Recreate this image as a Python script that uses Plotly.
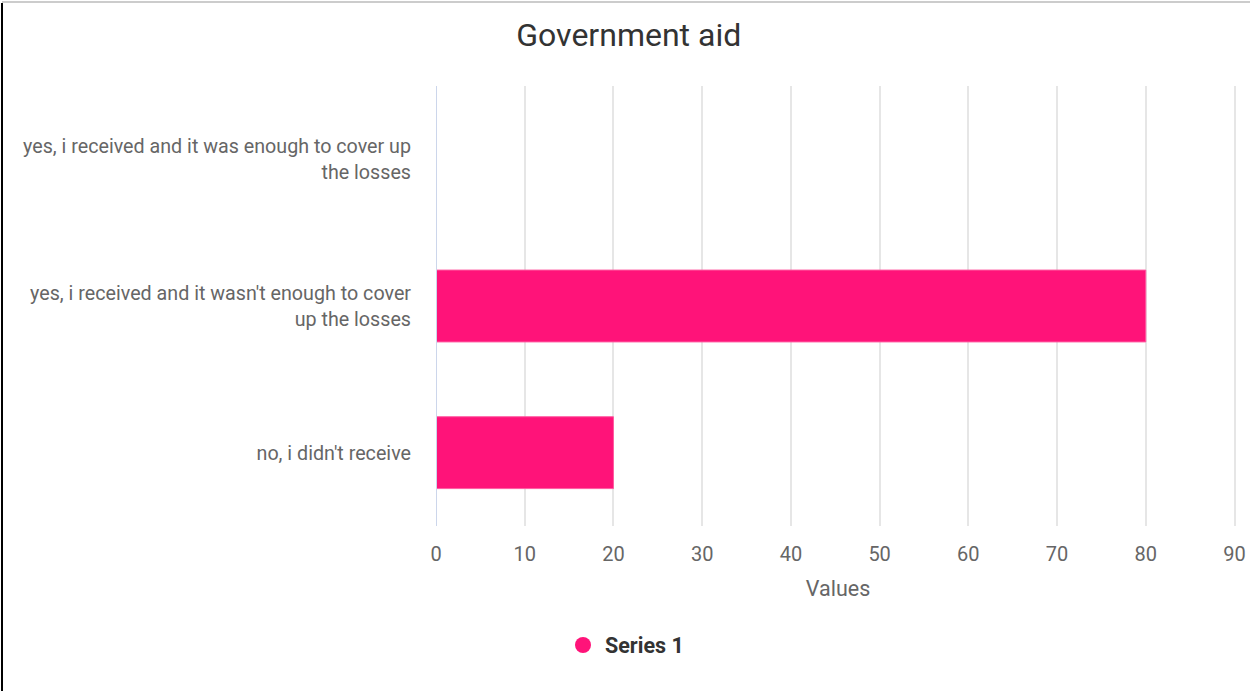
import plotly.graph_objects as go

# Survey answers (top to bottom) and their share
categories = [
    "yes, i received and it was enough to cover up<br>the losses",
    "yes, i received and it wasn't enough to cover<br>up the losses",
    "no, i didn't receive",
]
values = [0, 80, 20]
series_name = "Series 1"
x_ticks = [0, 10, 20, 30, 40, 50, 60, 70, 80, 90]

BAR_COLOR = "#ff1379"
W, H = 1250, 691
L, R, T, B = 436, 10, 86, 165
PW, PH = W - L - R, H - T - B

fig = go.Figure()
fig.add_trace(go.Bar(
    x=values, y=categories, orientation="h",
    marker=dict(color=BAR_COLOR, line=dict(width=1, color="#ff5aa0")),
    name=series_name, showlegend=False,
))
# legend entry with a round swatch
fig.add_trace(go.Scatter(
    x=[None], y=[None], mode="markers", name=series_name,
    marker=dict(symbol="circle", size=22, color=BAR_COLOR),
))

fig.update_layout(
    width=W, height=H,
    margin=dict(l=L, r=R, t=T, b=B, autoexpand=False),
    paper_bgcolor="white", plot_bgcolor="white",
    font=dict(family="Roboto", color="#666666", size=20),
    title=dict(text="Government aid", x=0.503, xref="container", xanchor="center",
               y=1 - 35 / H, yref="container", yanchor="middle",
               font=dict(family="Roboto", size=32, color="#333333")),
    bargap=0.51,
    showlegend=True,
    legend=dict(orientation="h", xref="container", yref="container",
                x=0.5, xanchor="center", y=1 - 645 / H, yanchor="middle",
                font=dict(family="Roboto", size=21.5, color="#333333", weight="bold"),
                itemwidth=34),
    xaxis=dict(range=[0, 90 * PW / 798.5], tickvals=x_ticks,
               showgrid=True, gridcolor="#e6e6e6", gridwidth=1.5, zeroline=False,
               showline=False, ticks="", ticklabelstandoff=14, automargin=False,
               tickfont=dict(size=20, color="#666666"),
               title=dict(text="Values", standoff=15,
                          font=dict(size=21.5, color="#666666")),
               fixedrange=True),
    yaxis=dict(autorange="reversed", showgrid=False, zeroline=False,
               showline=False, ticks="", ticklabelstandoff=24, automargin=False,
               tickfont=dict(size=19.7, color="#666666"), fixedrange=True),
    shapes=[
        # baseline at zero
        dict(type="line", xref="x", yref="paper", x0=0, x1=0, y0=0, y1=1,
             line=dict(color="#ccd6eb", width=2), layer="above"),
        # frame edges
        dict(type="line", xref="paper", yref="paper",
             x0=(2 - L) / PW, x1=(2 - L) / PW,
             y0=-B / PH, y1=1 + (T - 3) / PH,
             line=dict(color="#000000", width=2)),
        dict(type="line", xref="paper", yref="paper",
             x0=(2 - L) / PW, x1=1 + R / PW,
             y0=1 + (T - 2) / PH, y1=1 + (T - 2) / PH,
             line=dict(color="#cccccc", width=2)),
    ],
)

fig.write_html("out.html")
